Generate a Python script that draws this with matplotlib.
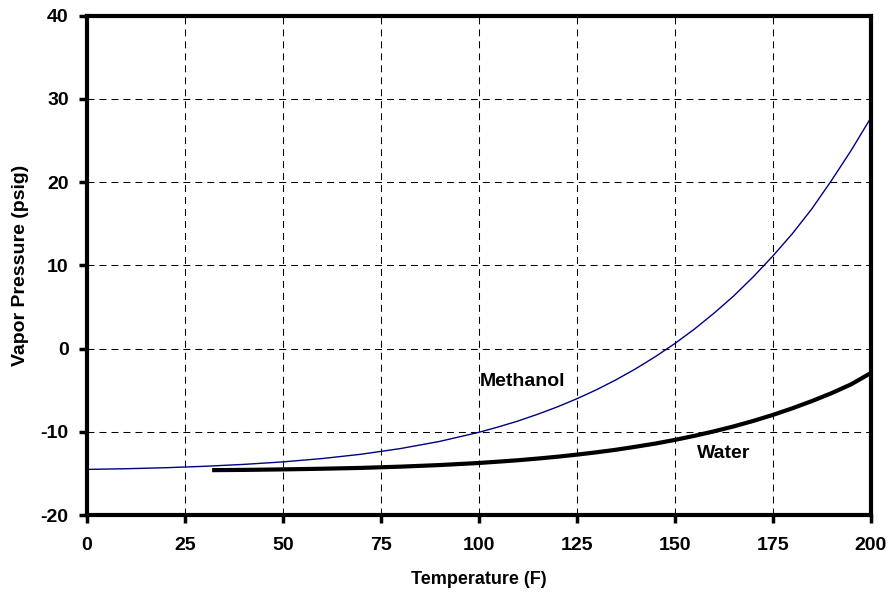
import matplotlib
matplotlib.use("Agg")
import matplotlib.pyplot as plt

plt.rcParams['font.family'] = ['Liberation Sans', 'DejaVu Sans']
plt.rcParams['axes.unicode_minus'] = False

meth_T = [0, 10, 20, 30, 40, 50, 60, 70, 80, 90, 100, 105, 110, 115, 120, 125, 130, 135, 140, 145,
          150, 155, 160, 165, 170, 175, 180, 185, 190, 195, 200]
meth_P = [-14.52, -14.44, -14.32, -14.15, -13.92, -13.62, -13.22, -12.70, -12.02, -11.16, -10.07,
          -9.42, -8.71, -7.90, -7.02, -6.04, -4.96, -3.76, -2.44, -0.99,
          0.59, 2.33, 4.24, 6.30, 8.60, 11.1, 13.8, 16.8, 20.2, 23.8, 27.7]
water_T = [32, 40, 50, 60, 70, 80, 90, 100, 105, 110, 115, 120, 125, 130, 135, 140, 145, 150,
           155, 160, 165, 170, 175, 180, 185, 190, 195, 200]
water_P = [-14.61, -14.58, -14.52, -14.44, -14.34, -14.19, -14.00, -13.75, -13.59, -13.42, -13.22,
           -13.00, -12.75, -12.47, -12.16, -11.80, -11.42, -10.98, -10.49, -9.95, -9.36, -8.70,
           -7.98, -7.18, -6.31, -5.36, -4.30, -2.95]
x_ticks = [0, 25, 50, 75, 100, 125, 150, 175, 200]
y_ticks = [-20, -10, 0, 10, 20, 30, 40]

fig = plt.figure(figsize=(8.91, 5.93), dpi=100)
ax = fig.add_axes([86.7/891, 1 - 515/593, (870.7-86.7)/891, (515-15.7)/593])

ax.plot(meth_T, meth_P, color='#000080', lw=1.0)
ax.plot(water_T, water_P, color='black', lw=3.0, solid_capstyle='butt')

ax.set_xlim(0, 200)
ax.set_ylim(-20, 40)
ax.set_xticks(x_ticks)
ax.set_yticks(y_ticks)
ax.grid(True, color='black', linestyle=(0, (6.7, 4.8)), lw=0.75)
for s in ax.spines.values():
    s.set_linewidth(3)
ax.tick_params(axis='both', direction='out', length=6, width=2.5, labelsize=14)
ax.tick_params(axis='x', pad=10)
ax.tick_params(axis='y', pad=7)
for lab in ax.get_xticklabels() + ax.get_yticklabels():
    lab.set_fontweight('bold')

ax.set_xlabel('Temperature (F)', fontsize=13, fontweight='bold', labelpad=12)
ax.set_ylabel('Vapor Pressure (psig)', fontsize=14, fontweight='bold', labelpad=8)

ax.text(111.3, -3.9, 'Methanol', fontsize=14, fontweight='bold', ha='center', va='center')
ax.text(162.6, -12.55, 'Water', fontsize=14, fontweight='bold', ha='center', va='center')

fig.savefig('out.png', dpi=100)
